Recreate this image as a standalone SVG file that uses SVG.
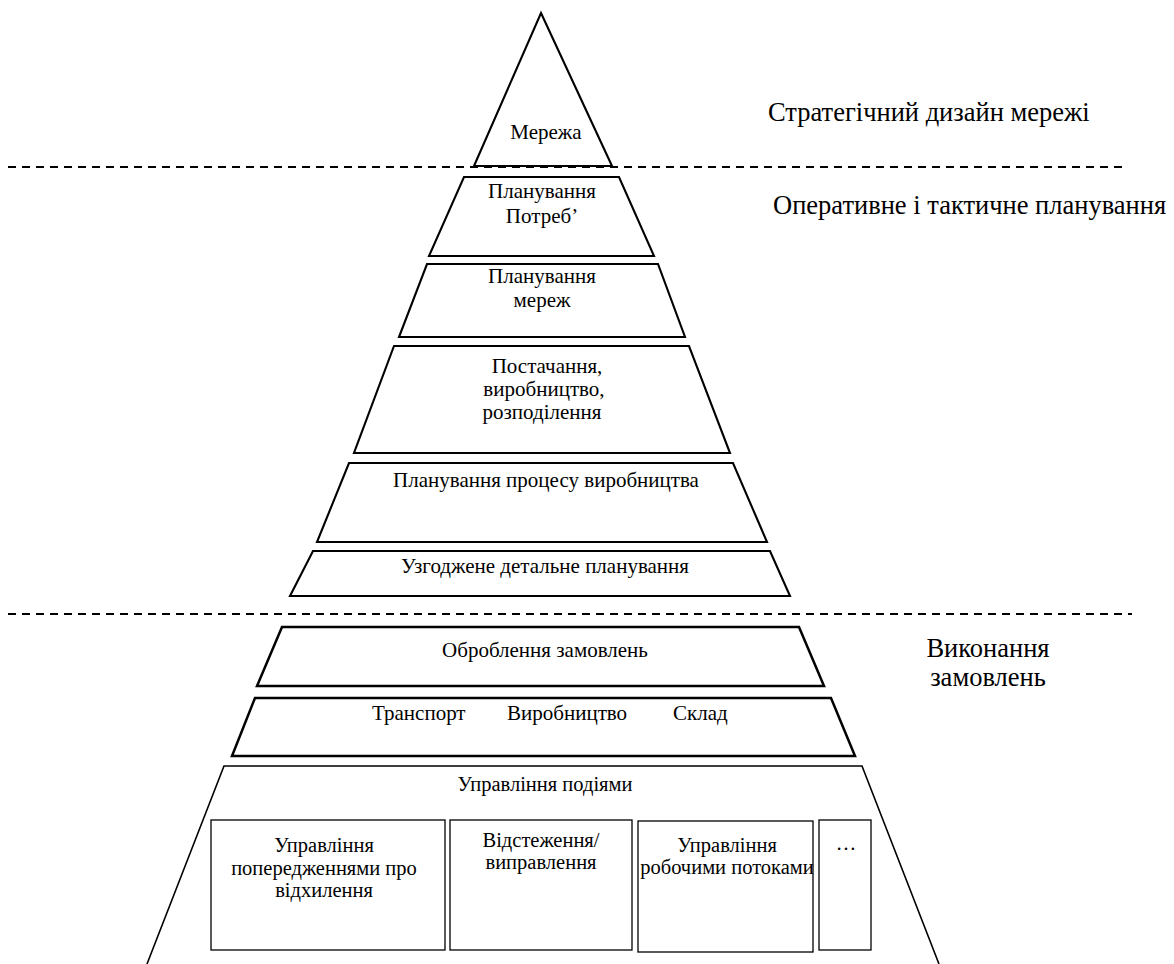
<svg xmlns="http://www.w3.org/2000/svg" width="1174" height="964" viewBox="0 0 1174 964">
<style>
.shape{fill:#fff;stroke:#000;stroke-width:2.1;stroke-linejoin:miter}
.bold{stroke-width:2.5}
.thin{fill:none;stroke:#000;stroke-width:1.6}
.box{fill:#fff;stroke:#000;stroke-width:1.3}
.dash{stroke:#000;stroke-width:2;stroke-dasharray:8 6;fill:none}
.t{font-size:21px;text-anchor:middle}
.s{font-size:20.5px;text-anchor:middle}
.st{font-size:21px;text-anchor:start}
.l{font-size:26.5px}
</style>
<rect width="1174" height="964" fill="#fff"/>
<g font-family="Liberation Serif" fill="#000">
<g id="separators">
<line class="dash" x1="8" y1="167" x2="1122" y2="167"/>
<line class="dash" x1="8" y1="614" x2="1132" y2="614"/>
</g>
<g id="level-merezha">
<polygon class="shape" points="541,13 612,166 474,166"/>
<text class="t" x="546" y="139" font-size="19">Мережа</text>
</g>
<g id="level-potreb">
<polygon class="shape" points="464,177 619,177 654,256 429,256"/>
<text class="t" x="542" y="198" font-size="20.5">Планування</text>
<text class="t" x="542" y="223" font-size="20.5">Потреб’</text>
</g>
<g id="level-merezh">
<polygon class="shape" points="427,264 658,264 685,337 399,337"/>
<text class="t" x="542" y="283" font-size="20.5">Планування</text>
<text class="t" x="542" y="307" font-size="20.5">мереж</text>
</g>
<g id="level-postachannya">
<polygon class="shape" points="394,346 689,346 730,453 354,453"/>
<text class="t" x="547" y="373">Постачання,</text>
<text class="t" x="544" y="396">виробництво,</text>
<text class="t" x="542" y="419">розподілення</text>
</g>
<g id="level-protsesu">
<polygon class="shape" points="349,463 733,463 767,542 317,542"/>
<text class="t" x="546" y="487" font-size="21.5">Планування процесу виробництва</text>
</g>
<g id="level-uzgodzhene">
<polygon class="shape" points="313,551 770,551 790,596 290,596"/>
<text class="t" x="545" y="573" font-size="21.5">Узгоджене детальне планування</text>
</g>
<g id="level-obroblennya">
<polygon class="shape bold" points="282,627 799,627 824,686 257,686"/>
<text class="t" x="545" y="657" font-size="21.3">Оброблення замовлень</text>
</g>
<g id="level-transport">
<polygon class="shape bold" points="255,698 831,698 855,756 232,756"/>
<text class="st" x="372" y="720">Транспорт</text>
<text class="st" x="507" y="720">Виробництво</text>
<text class="st" x="673" y="720">Склад</text>
</g>
<g id="level-podii">
<polyline class="thin" points="147,964 224,766 862,766 939,964"/>
<text class="s" x="545" y="791" font-size="21">Управління подіями</text>
</g>
<g id="box-poperedzhennya">
<rect class="box" x="211" y="820" width="234" height="130"/>
<text class="s" x="324" y="852">Управління</text>
<text class="s" x="324" y="875">попередженнями про</text>
<text class="s" x="324" y="897">відхилення</text>
</g>
<g id="box-vidstezhennya">
<rect class="box" x="450" y="820" width="182" height="130"/>
<text class="s" x="541" y="847">Відстеження/</text>
<text class="s" x="541" y="869">виправлення</text>
</g>
<g id="box-potoky">
<rect class="box" x="638" y="821" width="175" height="131"/>
<text class="s" x="727" y="852">Управління</text>
<text class="s" x="727" y="874">робочими потоками</text>
</g>
<g id="box-more">
<rect class="box" x="819" y="820" width="52" height="130"/>
<text class="s" x="846" y="850">…</text>
</g>
<g id="side-labels">
<text class="l" x="768" y="121">Стратегічний дизайн мережі</text>
<text class="l" x="773" y="214" font-size="27">Оперативне і тактичне планування</text>
<text class="l" x="988" y="657" font-size="25.5" text-anchor="middle">Виконання</text>
<text class="l" x="988" y="686" font-size="25.5" text-anchor="middle">замовлень</text>
</g>
</g>
</svg>
